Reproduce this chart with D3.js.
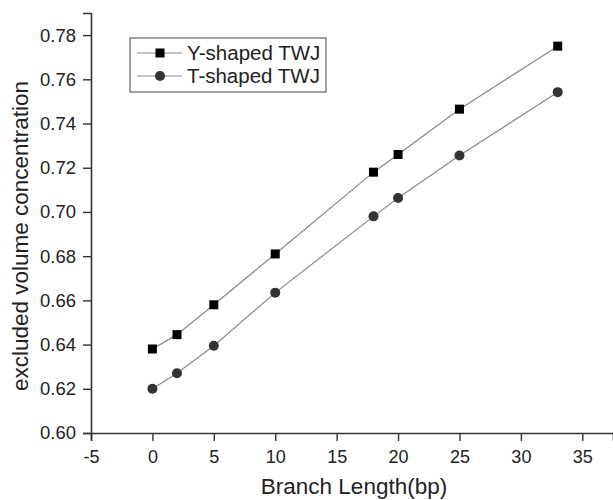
<!DOCTYPE html>
<html>
<head>
<meta charset="utf-8">
<script src="https://cdn.jsdelivr.net/npm/d3@7"></script>
<style>
  body { margin: 0; background: #fff; }
  text { font-family: "Liberation Sans", Arial, sans-serif; fill: #222; }
</style>
</head>
<body>
<div id="chart"></div>
<script>
// Data
const branchLength = [0, 2, 5, 10, 18, 20, 25, 33];
const yShaped = [0.638, 0.6445, 0.658, 0.681, 0.718, 0.726, 0.7465, 0.775];
const tShaped = [0.620, 0.627, 0.6395, 0.6635, 0.698, 0.7063, 0.7255, 0.7542];
const seriesNames = ["Y-shaped TWJ", "T-shaped TWJ"];
const xTicks = [-5, 0, 5, 10, 15, 20, 25, 30, 35];
const yTicks = [0.60, 0.62, 0.64, 0.66, 0.68, 0.70, 0.72, 0.74, 0.76, 0.78];

// Chart dimensions
const width = 613;
const height = 500;
const marginTop = 13;
const marginRight = 0;
const marginBottom = 67;
const marginLeft = 91;

const svg = d3.select("#chart")
  .append("svg")
  .attr("width", width)
  .attr("height", height);

// Scales
const x = d3.scaleLinear()
  .domain([-5, 37.5])
  .range([marginLeft, width - marginRight]);

const y = d3.scaleLinear()
  .domain([0.60, 0.79])
  .range([height - marginBottom, marginTop]);

const axisColor = "#333";

// x-axis: major + minor ticks
const xAxis = svg.append("g")
  .attr("transform", `translate(0,${height - marginBottom})`);
xAxis.call(d3.axisBottom(x).tickValues(d3.range(-2.5, 37.5, 5)).tickSize(4).tickFormat(""));
xAxis.call(d3.axisBottom(x).tickValues(xTicks).tickSize(8).tickPadding(9).tickFormat(d => String(d)));
xAxis.selectAll("path.domain").attr("stroke", axisColor).attr("stroke-width", 1.6);
xAxis.selectAll("line").attr("stroke", axisColor).attr("stroke-width", 1.4);
xAxis.selectAll("text").style("font-size", "18px").attr("fill", "#222");

// y-axis: major + minor ticks
const yAxis = svg.append("g")
  .attr("transform", `translate(${marginLeft},0)`);
yAxis.call(d3.axisLeft(y).tickValues(d3.range(0.61, 0.795, 0.02)).tickSize(4).tickFormat(""));
yAxis.call(d3.axisLeft(y).tickValues(yTicks).tickSize(8).tickPadding(7).tickFormat(d3.format(".2f")));
yAxis.selectAll("path.domain").attr("stroke", axisColor).attr("stroke-width", 1.6);
yAxis.selectAll("line").attr("stroke", axisColor).attr("stroke-width", 1.4);
yAxis.selectAll("text").style("font-size", "18.5px").attr("fill", "#222");

// Axis titles
svg.append("text")
  .attr("x", 354)
  .attr("y", 494)
  .attr("text-anchor", "middle")
  .style("font-size", "22.5px")
  .text("Branch Length(bp)");

svg.append("text")
  .attr("transform", `translate(28,236) rotate(-90)`)
  .attr("text-anchor", "middle")
  .style("font-size", "22.5px")
  .text("excluded volume concentration");

// Series
const line = d3.line()
  .x((d, i) => x(branchLength[i]))
  .y(d => y(d));

const lineColor = "#888";

svg.append("path")
  .datum(yShaped)
  .attr("fill", "none")
  .attr("stroke", lineColor)
  .attr("stroke-width", 1.2)
  .attr("d", line);

svg.append("path")
  .datum(tShaped)
  .attr("fill", "none")
  .attr("stroke", lineColor)
  .attr("stroke-width", 1.2)
  .attr("d", line);

const sq = 9;
svg.append("g")
  .selectAll("rect")
  .data(yShaped)
  .join("rect")
  .attr("x", (d, i) => x(branchLength[i]) - sq / 2)
  .attr("y", d => y(d) - sq / 2)
  .attr("width", sq)
  .attr("height", sq)
  .attr("fill", "#000");

svg.append("g")
  .selectAll("circle")
  .data(tShaped)
  .join("circle")
  .attr("cx", (d, i) => x(branchLength[i]))
  .attr("cy", d => y(d))
  .attr("r", 5)
  .attr("fill", "#333");

// Legend
const legend = svg.append("g");
legend.append("rect")
  .attr("x", 130)
  .attr("y", 38)
  .attr("width", 196)
  .attr("height", 54)
  .attr("fill", "#fff")
  .attr("stroke", "#666")
  .attr("stroke-width", 1.2);

seriesNames.forEach((name, i) => {
  const ly = 53 + i * 23;
  legend.append("line")
    .attr("x1", 137).attr("x2", 182)
    .attr("y1", ly).attr("y2", ly)
    .attr("stroke", lineColor)
    .attr("stroke-width", 1.2);
  if (i === 0) {
    legend.append("rect")
      .attr("x", 160 - sq / 2).attr("y", ly - sq / 2)
      .attr("width", sq).attr("height", sq)
      .attr("fill", "#000");
  } else {
    legend.append("circle")
      .attr("cx", 160).attr("cy", ly).attr("r", 5)
      .attr("fill", "#333");
  }
  legend.append("text")
    .attr("x", 187)
    .attr("y", ly + 7)
    .style("font-size", "20.5px")
    .text(name);
});
</script>
</body>
</html>
